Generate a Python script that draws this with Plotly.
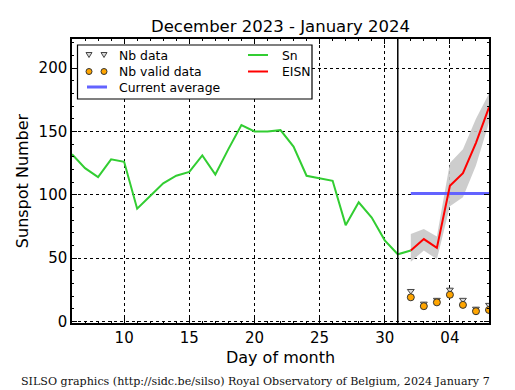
import plotly.graph_objects as go

# ---------------- data ----------------
sn_days = list(range(6, 33))
sn_values = [132, 121, 114, 128, 126, 89, 99, 109, 115, 118, 131, 116, 136, 155,
             150, 150, 151, 138, 115, 113, 111, 76, 94, 82, 64, 53, 56]

eisn_days = [32, 33, 34, 35, 36, 37, 38]
eisn_values = [56, 65, 58, 107, 117, 141, 169]
eisn_upper = [69, 73, 67, 125, 136, 160, 180]
eisn_lower = [47, 56, 49, 91, 98, 123, 157]

nb_data = [24, 14, 17, 25, 17, 10, 13]
nb_valid = [19, 12, 15, 21, 13, 8, 9]

current_average = 101
month_end_day = 31

x_tick_vals = [10, 15, 20, 25, 30, 35]
x_tick_text = ["10", "15", "20", "25", "30", "04"]
y_tick_vals = [0, 50, 100, 150, 200]

title_text = "December 2023 - January 2024"
footer_text = "SILSO graphics (http://sidc.be/silso) Royal Observatory of Belgium, 2024 January 7"

# ---------------- layout constants ----------------
W, H = 515, 390
ML, MR, MT, MB = 72, 26, 39, 67
PW, PH = W - ML - MR, H - MT - MB

GREEN = "#32CD32"
RED = "#FF0000"
BLUE = "#6363FF"
ORANGE = "#FFA500"
FONT = "DejaVu Sans"


def px(x):
    return (x - ML) / PW


def py(y):
    return (MT + PH - y) / PH


fig = go.Figure()

# uncertainty band
fig.add_trace(go.Scatter(x=eisn_days, y=eisn_lower, mode="lines",
                         line=dict(width=0, color="rgba(0,0,0,0)"),
                         showlegend=False, hoverinfo="skip"))
fig.add_trace(go.Scatter(x=eisn_days, y=eisn_upper, mode="lines", fill="tonexty",
                         fillcolor="rgba(200,200,200,0.9)",
                         line=dict(width=0, color="rgba(0,0,0,0)"),
                         showlegend=False, hoverinfo="skip"))

# current average
fig.add_trace(go.Scatter(x=[eisn_days[0], eisn_days[-1]],
                         y=[current_average, current_average], mode="lines",
                         line=dict(color=BLUE, width=3), showlegend=False))

# Sn
fig.add_trace(go.Scatter(x=sn_days, y=sn_values, mode="lines",
                         line=dict(color=GREEN, width=2), showlegend=False))

# EISN
fig.add_trace(go.Scatter(x=eisn_days, y=eisn_values, mode="lines",
                         line=dict(color=RED, width=2), showlegend=False))

# Nb data / valid
fig.add_trace(go.Scatter(x=eisn_days, y=nb_data, mode="markers",
                         marker=dict(symbol="triangle-down", size=6, color="#d8d8d8",
                                     line=dict(color="#444444", width=1)),
                         showlegend=False, cliponaxis=True))
fig.add_trace(go.Scatter(x=eisn_days, y=nb_valid, mode="markers",
                         marker=dict(symbol="circle", size=7, color=ORANGE,
                                     line=dict(color="#333333", width=1)),
                         showlegend=False, cliponaxis=True))

# month boundary
fig.add_vline(x=month_end_day, line=dict(color="black", width=1.5))

# ---------------- manual legend ----------------
shapes = []
annotations = []
shapes.append(dict(type="rect", xref="paper", yref="paper",
                   x0=px(77.5), x1=px(312), y0=py(99), y1=py(45),
                   fillcolor="white", line=dict(color="black", width=1.2),
                   layer="above"))
rows = [55, 71.5, 87]
for cx in (89, 104):
    cy = rows[0]
    shapes.append(dict(type="path", xref="paper", yref="paper",
                       path=f"M {px(cx-3)},{py(cy-2.5)} L {px(cx+3)},{py(cy-2.5)} L {px(cx)},{py(cy+2.5)} Z",
                       fillcolor="#d8d8d8", line=dict(color="#444444", width=1),
                       layer="above"))
    cy = rows[1]
    shapes.append(dict(type="circle", xref="paper", yref="paper",
                       x0=px(cx-3), x1=px(cx+3), y0=py(cy+3), y1=py(cy-3),
                       fillcolor=ORANGE, line=dict(color="#333333", width=1),
                       layer="above"))
shapes.append(dict(type="line", xref="paper", yref="paper",
                   x0=px(87), x1=px(107), y0=py(rows[2]), y1=py(rows[2]),
                   line=dict(color=BLUE, width=3), layer="above"))
shapes.append(dict(type="line", xref="paper", yref="paper",
                   x0=px(248), x1=px(268), y0=py(rows[0]), y1=py(rows[0]),
                   line=dict(color=GREEN, width=2), layer="above"))
shapes.append(dict(type="line", xref="paper", yref="paper",
                   x0=px(248), x1=px(268), y0=py(rows[1]), y1=py(rows[1]),
                   line=dict(color=RED, width=2), layer="above"))

for txt, x, y in [("Nb data", 117, rows[0]), ("Nb valid data", 117, rows[1]),
                  ("Current average", 117, rows[2]), ("Sn", 280, rows[0]),
                  ("EISN", 280, rows[1])]:
    annotations.append(dict(text=txt, xref="paper", yref="paper", x=px(x), y=py(y),
                            xanchor="left", yanchor="middle", showarrow=False,
                            font=dict(family=FONT, size=12.4, color="black")))

annotations.append(dict(text=footer_text, xref="paper", yref="paper",
                        x=px(255.5), y=py(381.5), xanchor="center", yanchor="middle",
                        showarrow=False,
                        font=dict(family="DejaVu Serif", size=11.1, color="#111111")))

fig.update_layout(
    width=W, height=H,
    margin=dict(l=ML, r=MR, t=MT, b=MB, pad=0),
    paper_bgcolor="white", plot_bgcolor="white",
    font=dict(family=FONT, color="black"),
    title=dict(text=title_text, x=(ML + PW / 2) / W, xanchor="center",
               y=1 - 26 / H, yanchor="middle", font=dict(family=FONT, size=16.5)),
    showlegend=False,
    shapes=fig.layout.shapes + tuple(shapes),
    annotations=annotations,
)

fig.update_xaxes(
    range=[6, 38], tickvals=x_tick_vals, ticktext=x_tick_text,
    ticks="inside", ticklen=5, tickwidth=1, tickcolor="black",
    minor=dict(dtick=1, ticks="inside", ticklen=2.5, tickcolor="black", showgrid=False),
    showline=True, linecolor="black", linewidth=1.5, mirror="ticks",
    showgrid=True, gridcolor="black", griddash="dot", gridwidth=1,
    zeroline=False, tickfont=dict(family=FONT, size=15),
    title=dict(text="Day of month", font=dict(family=FONT, size=16), standoff=6),
)
fig.update_yaxes(
    range=[-1.3, 223], tickvals=y_tick_vals,
    ticks="inside", ticklen=5, tickwidth=1, tickcolor="black",
    minor=dict(dtick=10, tick0=0, ticks="inside", ticklen=2.5, tickcolor="black", showgrid=False),
    showline=True, linecolor="black", linewidth=1.5, mirror="ticks",
    showgrid=True, gridcolor="black", griddash="dot", gridwidth=1,
    zeroline=False, tickfont=dict(family=FONT, size=15),
    title=dict(text="Sunspot Number", font=dict(family=FONT, size=16), standoff=6),
)

fig.write_html("out.html", config={"displayModeBar": False},
               post_script="document.body.style.margin='0px';document.body.style.overflow='hidden';")
